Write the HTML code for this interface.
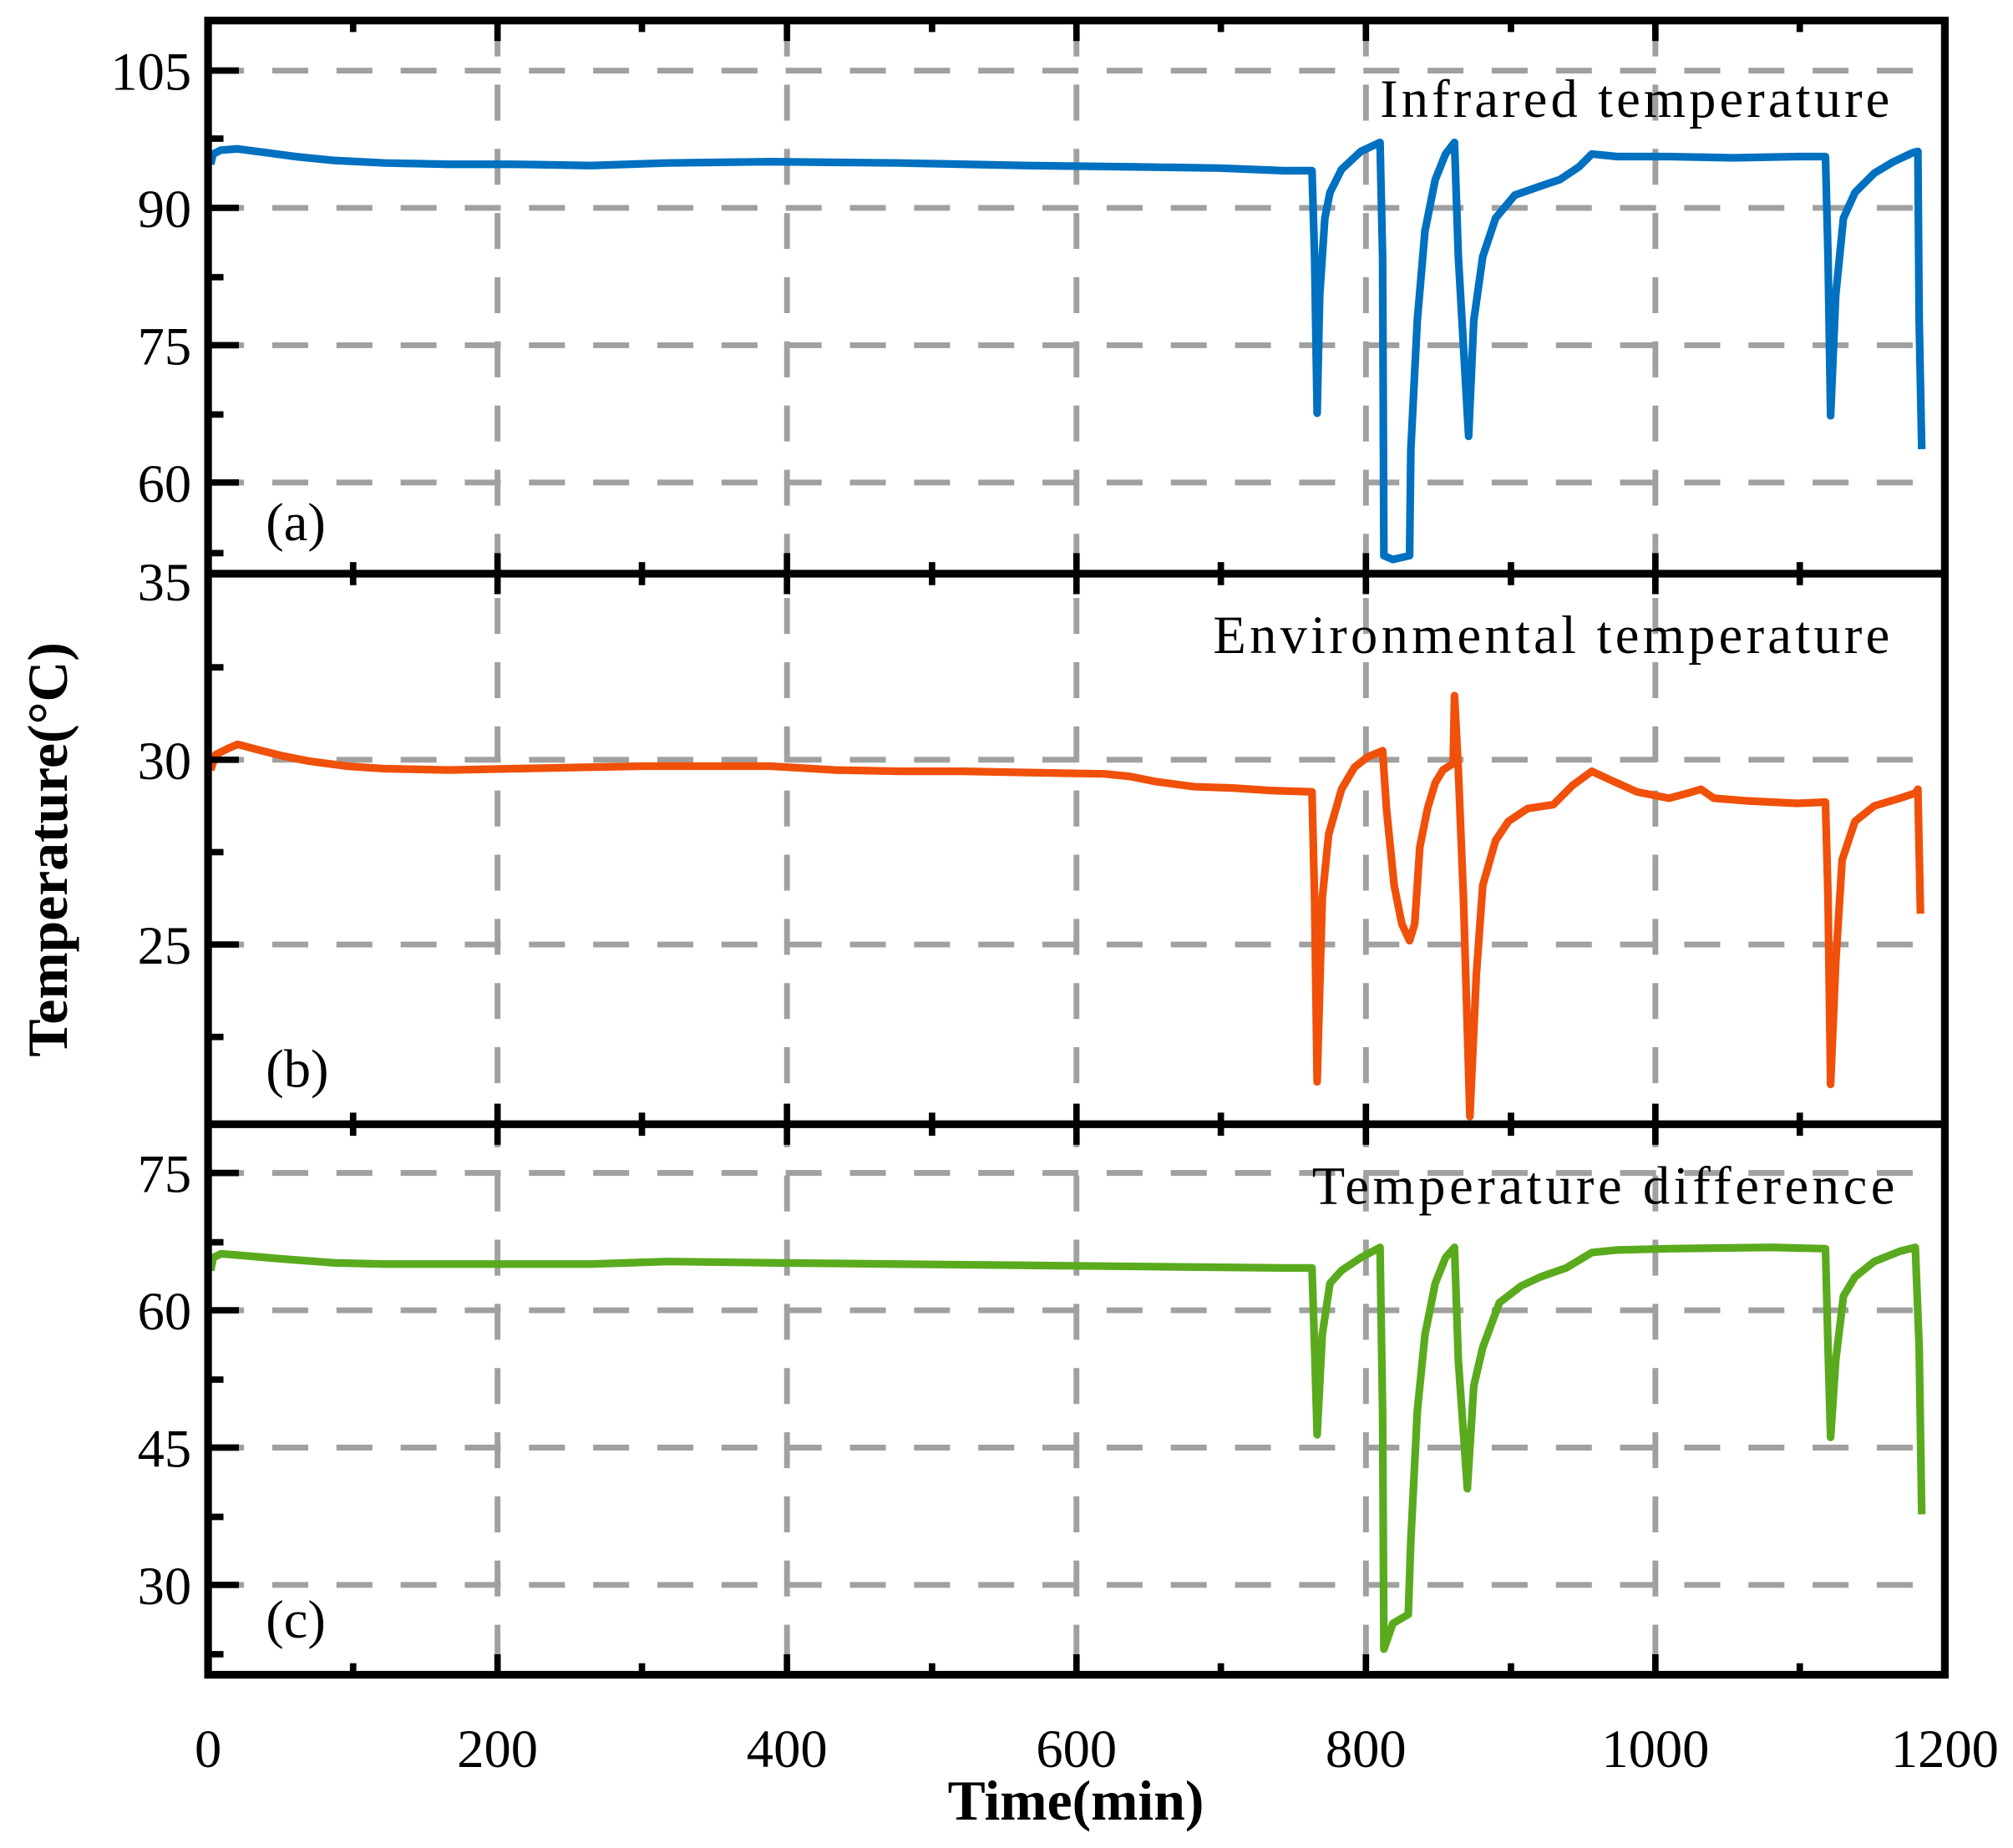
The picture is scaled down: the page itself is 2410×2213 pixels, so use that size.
<!DOCTYPE html>
<html><head><meta charset="utf-8"><style>html,body{margin:0;padding:0;background:#fff}svg{display:block}</style></head>
<body>
<svg width="2410" height="2213" viewBox="0 0 1568 1440" xmlns="http://www.w3.org/2000/svg" font-family="Liberation Serif, serif">
<rect width="1568" height="1440" fill="#fff"/>
<defs>
<clipPath id="ca"><rect x="162" y="16" width="1353" height="431"/></clipPath>
<clipPath id="cb"><rect x="162" y="447" width="1353" height="429"/></clipPath>
<clipPath id="cc"><rect x="162" y="876" width="1353" height="429"/></clipPath>
</defs>
<g stroke="#a0a0a0" stroke-width="4.5" stroke-dasharray="28 22" fill="none">
<line x1="162" y1="55" x2="1515" y2="55"/><line x1="162" y1="162" x2="1515" y2="162"/><line x1="162" y1="269" x2="1515" y2="269"/><line x1="162" y1="376" x2="1515" y2="376"/>
<line x1="162" y1="592" x2="1515" y2="592"/><line x1="162" y1="736" x2="1515" y2="736"/>
<line x1="162" y1="914" x2="1515" y2="914"/><line x1="162" y1="1021" x2="1515" y2="1021"/><line x1="162" y1="1128" x2="1515" y2="1128"/><line x1="162" y1="1235" x2="1515" y2="1235"/>
<line x1="387.5" y1="16" x2="387.5" y2="1305"/><line x1="613" y1="16" x2="613" y2="1305"/><line x1="838.5" y1="16" x2="838.5" y2="1305"/><line x1="1064" y1="16" x2="1064" y2="1305"/><line x1="1289.5" y1="16" x2="1289.5" y2="1305"/>
</g>
<g fill="none" stroke-width="6" stroke-linejoin="round">
<polyline clip-path="url(#ca)" stroke="#0070C0" points="164,128 166,120 172,117 185,116 200,118 230,122 260,125 300,127 350,128 400,128 460,129 520,127 600,126 700,127 800,129 880,130 950,131 1000,133 1022,133 1024,200 1026,322 1028,230 1032,170 1036,150 1045,132 1060,118 1075,111 1077,200 1078,433 1085,436 1098,433 1099,350 1104,250 1110,180 1118,140 1126,120 1133,111 1136,200 1144,340 1148,250 1155,200 1165,170 1180,152 1200,145 1215,140 1230,130 1240,120 1260,122 1300,122 1350,123 1400,122 1422,122 1424,200 1426,324 1430,230 1436,170 1445,150 1460,135 1475,126 1490,119 1494,118 1495,250 1497,350"/>
<polyline clip-path="url(#cb)" stroke="#F0500A" points="164,600 168,588 178,583 185,580 200,584 220,589 240,593 270,597 300,599 350,600 400,599 450,598 500,597 550,597 600,597 650,600 700,601 750,601 800,602 860,603 880,605 900,609 930,613 960,614 990,616 1022,617 1024,700 1026,843 1030,700 1035,650 1045,615 1055,598 1065,590 1077,585 1080,630 1086,690 1092,720 1098,733 1102,720 1106,660 1112,630 1118,610 1124,600 1132,595 1133,542 1136,600 1140,700 1145,870 1150,760 1155,690 1165,655 1175,640 1190,630 1210,627 1225,612 1240,601 1255,608 1275,617 1300,622 1315,618 1325,615 1335,622 1360,624 1400,626 1422,625 1424,700 1426,845 1430,750 1435,670 1445,640 1460,628 1480,622 1492,618 1494,615 1496,712"/>
<polyline clip-path="url(#cc)" stroke="#5AAA1E" points="164,990 166,980 172,977 185,978 220,981 260,984 300,985 350,985 400,985 460,985 520,983 600,984 700,985 800,986 900,987 1000,988 1022,988 1024,1050 1026,1118 1030,1040 1036,1000 1045,990 1060,980 1075,972 1077,1100 1078,1285 1085,1265 1097,1258 1099,1200 1104,1100 1110,1040 1118,1000 1126,980 1133,972 1136,1060 1143,1160 1148,1080 1155,1050 1168,1015 1185,1002 1200,995 1220,988 1240,976 1260,974 1300,973 1380,972 1422,973 1424,1050 1426,1120 1430,1060 1436,1010 1445,995 1460,983 1480,975 1492,972 1495,1050 1497,1180"/>
</g>
<g stroke="#000" stroke-width="5" fill="none">
<line x1="162" y1="55" x2="186" y2="55"/><line x1="162" y1="162" x2="186" y2="162"/><line x1="162" y1="269" x2="186" y2="269"/><line x1="162" y1="376" x2="186" y2="376"/>
<line x1="162" y1="108" x2="174" y2="108"/><line x1="162" y1="216" x2="174" y2="216"/><line x1="162" y1="323" x2="174" y2="323"/><line x1="162" y1="431" x2="174" y2="431"/>
<line x1="162" y1="592" x2="186" y2="592"/><line x1="162" y1="736" x2="186" y2="736"/>
<line x1="162" y1="520" x2="174" y2="520"/><line x1="162" y1="664" x2="174" y2="664"/><line x1="162" y1="808" x2="174" y2="808"/>
<line x1="162" y1="914" x2="186" y2="914"/><line x1="162" y1="1021" x2="186" y2="1021"/><line x1="162" y1="1128" x2="186" y2="1128"/><line x1="162" y1="1235" x2="186" y2="1235"/>
<line x1="162" y1="968" x2="174" y2="968"/><line x1="162" y1="1075" x2="174" y2="1075"/><line x1="162" y1="1182" x2="174" y2="1182"/><line x1="162" y1="1289" x2="174" y2="1289"/>
</g>
<g stroke="#000" stroke-width="5">
<path d="M387.5 16v16M613 16v16M838.5 16v16M1064 16v16M1289.5 16v16 M275 16v9M500 16v9M726 16v9M951 16v9M1177 16v9M1402 16v9
M387.5 447v-16M613 447v-16M838.5 447v-16M1064 447v-16M1289.5 447v-16 M275 447v-9M500 447v-9M726 447v-9M951 447v-9M1177 447v-9M1402 447v-9
M387.5 447v16M613 447v16M838.5 447v16M1064 447v16M1289.5 447v16 M275 447v9M500 447v9M726 447v9M951 447v9M1177 447v9M1402 447v9
M387.5 876v-16M613 876v-16M838.5 876v-16M1064 876v-16M1289.5 876v-16 M275 876v-9M500 876v-9M726 876v-9M951 876v-9M1177 876v-9M1402 876v-9
M387.5 876v16M613 876v16M838.5 876v16M1064 876v16M1289.5 876v16 M275 876v9M500 876v9M726 876v9M951 876v9M1177 876v9M1402 876v9
M387.5 1305v-16M613 1305v-16M838.5 1305v-16M1064 1305v-16M1289.5 1305v-16 M275 1305v-9M500 1305v-9M726 1305v-9M951 1305v-9M1177 1305v-9M1402 1305v-9"/>
</g>
<g stroke="#000" stroke-width="6" fill="none">
<rect x="162" y="16" width="1353" height="1289"/>
<line x1="162" y1="447" x2="1515" y2="447"/><line x1="162" y1="876" x2="1515" y2="876"/>
</g>
<g font-size="42" text-anchor="end" fill="#000">
<text x="149" y="70">105</text><text x="149" y="177">90</text><text x="149" y="284">75</text><text x="149" y="391">60</text>
<text x="149" y="468">35</text><text x="149" y="607">30</text><text x="149" y="751">25</text>
<text x="149" y="929">75</text><text x="149" y="1036">60</text><text x="149" y="1143">45</text><text x="149" y="1250">30</text>
</g>
<g font-size="42" text-anchor="middle" fill="#000">
<text x="162" y="1377">0</text><text x="387.5" y="1377">200</text><text x="613" y="1377">400</text><text x="838.5" y="1377">600</text><text x="1064" y="1377">800</text><text x="1289.5" y="1377">1000</text><text x="1515" y="1377">1200</text>
</g>
<g font-size="42" fill="#000">
<text x="1075" y="91" textLength="397">Infrared temperature</text>
<text x="945" y="509" textLength="527">Environmental temperature</text>
<text x="1022" y="938" textLength="454">Temperature difference</text>
<text x="207" y="421">(a)</text><text x="207" y="847">(b)</text><text x="207" y="1276">(c)</text>
</g>
<text x="838" y="1418" font-size="44" font-weight="bold" text-anchor="middle">Time(min)</text>
<text transform="translate(52,662) rotate(-90)" font-size="44" font-weight="bold" text-anchor="middle">Temperature(°C)</text>
</svg>
</body></html>
